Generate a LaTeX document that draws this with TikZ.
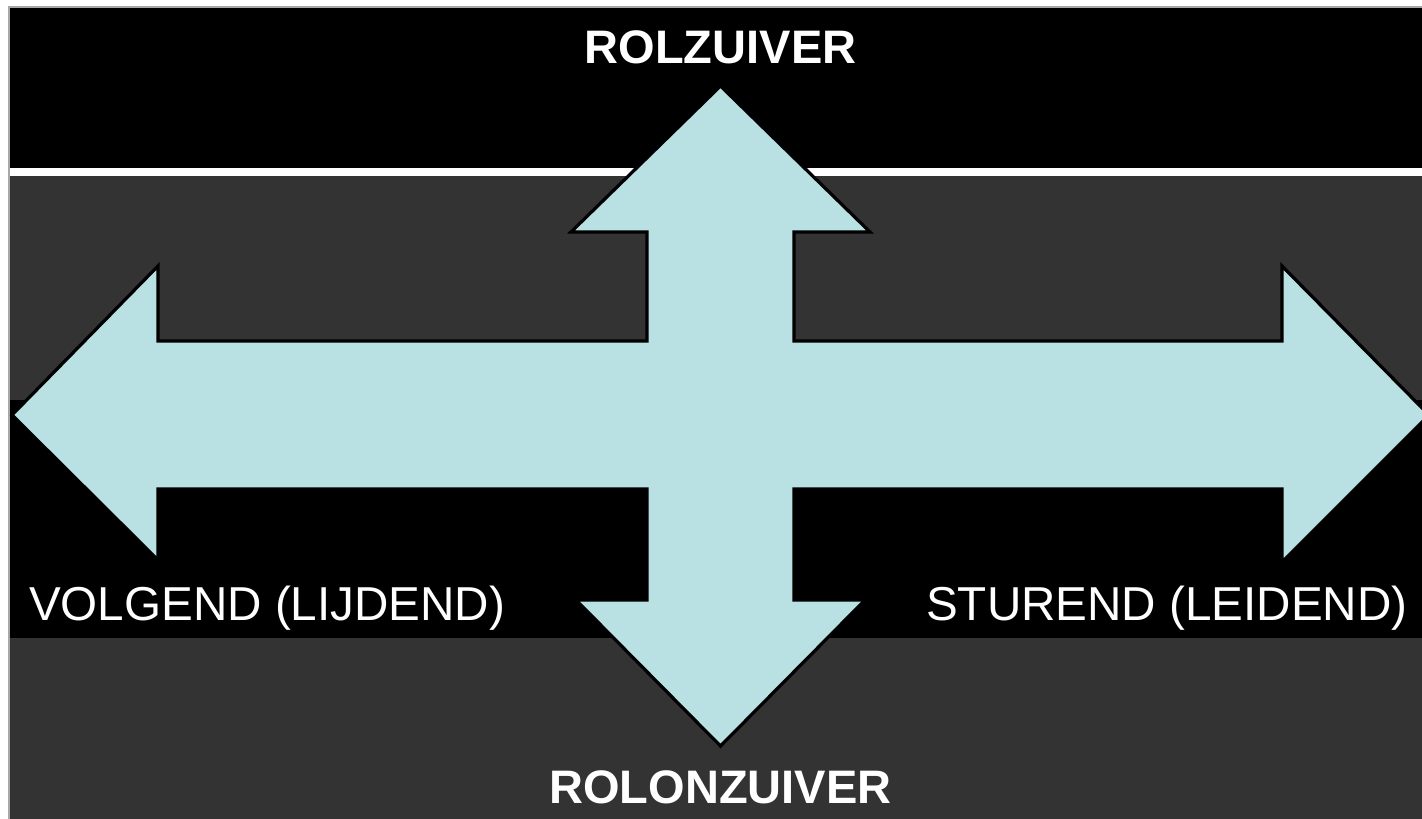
\documentclass[tikz,border=0pt]{standalone}
\usepackage{fontspec}
\setmainfont{Liberation Sans}
\definecolor{arrowblue}{HTML}{B9E0E3}
\definecolor{darkband}{HTML}{333333}
\definecolor{frameline}{HTML}{A8A8A8}
\tikzset{
  bigarrow/.style={fill=arrowblue, draw=black, line width=3.2pt, line join=miter, miter limit=10},
  sidelabel/.style={text=white, font=\fontsize{47.6}{57}\selectfont, inner sep=0pt, anchor=base west},
  endlabel/.style={text=white, font=\fontsize{47}{56}\selectfont\bfseries, inner sep=0pt, anchor=base},
}
\begin{document}
\begin{tikzpicture}[x=1pt,y=-1pt]
\useasboundingbox (0,0) rectangle (1422,819);
% frame
\fill[white] (0,0) rectangle (1422,819);
\fill[frameline] (8,6) rectangle (1422,819);
% bands
\fill[black] (10,8) rectangle (1422,168);
\fill[white] (10,168) rectangle (1422,176);
\fill[darkband] (10,176) rectangle (1422,400);
\fill[black] (10,400) rectangle (1422,638);
\fill[darkband] (10,638) rectangle (1422,819);
% four-way arrow
\coordinate (c) at (720.5,415);
\draw[bigarrow]
  (12,415) -- (158,266) -- (158,341) -- (647,341) -- (647,232) -- (571,232)
  -- (720.5,86) -- (870,232) -- (794,232) -- (794,341) -- (1282,341)
  -- (1282,266) -- (1429,415) -- (1282,562) -- (1282,489) -- (794,489)
  -- (794,600) -- (865,600) -- (720.5,746) -- (576,600) -- (647,600)
  -- (647,489) -- (158,489) -- (158,560) -- cycle;
% labels
\node[endlabel] (top) at (720.5,63) {ROLZUIVER};
\node[endlabel] (bottom) at (720.5,803) {ROLONZUIVER};
\node[sidelabel] (left) at (29,620) {VOLGEND (LIJDEND)};
\node[sidelabel] (right) at (926,620) {STUREND (LEIDEND)};
\end{tikzpicture}
\end{document}
